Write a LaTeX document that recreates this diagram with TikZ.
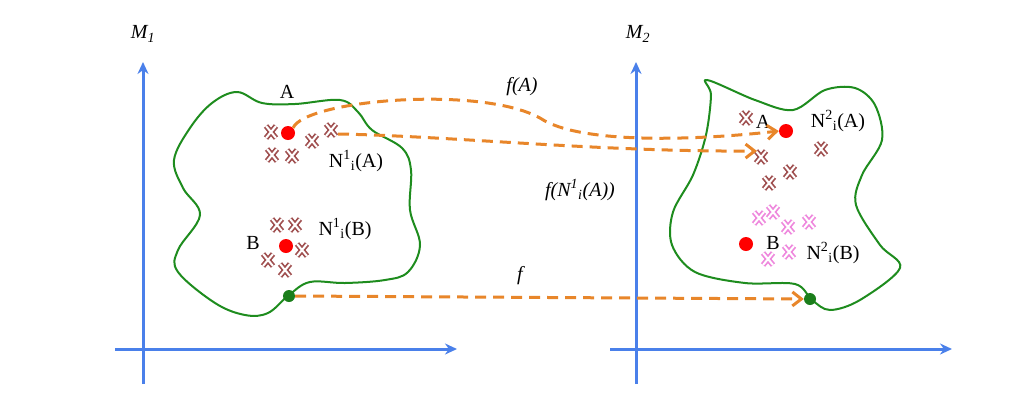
\documentclass[tikz,border=0pt]{standalone}
\usepackage{fontspec}
\setmainfont{Liberation Serif}
\usetikzlibrary{arrows.meta}
\definecolor{axblue}{HTML}{4A80EA}
\definecolor{blobgreen}{HTML}{1E8C1E}
\definecolor{dashor}{HTML}{E8862A}
\definecolor{crossbrown}{HTML}{A05050}
\definecolor{crosspink}{HTML}{EE88DD}
\tikzset{
  axis/.style={axblue,line width=3pt,-{Stealth[length=12pt,width=11pt]}},
  blob/.style={blobgreen,line width=2pt},
  fmap/.style={dashor,line width=3pt,dash pattern=on 11pt off 7pt,-{Straight Barb[length=9pt,width=14pt]}},
  lbl/.style={font=\fontsize{20}{24}\selectfont,inner sep=1pt},
  ilbl/.style={font=\fontsize{20}{24}\selectfont\itshape,inner sep=1pt},
  reddot/.style={circle,fill=red,minimum size=14pt,inner sep=0pt},
  greendot/.style={circle,fill=blobgreen!90!black,minimum size=12pt,inner sep=0pt},
  pics/xmark/.style={code={
    \draw[#1,line width=5.5pt] (-5,-6)--(5,6) (-5,6)--(5,-6);
    \draw[white,line width=2pt] (-5,-6)--(5,6) (-5,6)--(5,-6);}}
}
\begin{document}
\begin{tikzpicture}[x=1pt,y=-1pt]
\useasboundingbox (0,0) rectangle (1036,416);
% axes
\coordinate (y1) at (143,62); \coordinate (y1b) at (143,384);
\coordinate (x1a) at (115,349); \coordinate (x1) at (457,349);
\draw[axis] (y1b) -- (y1);
\draw[axis] (x1a) -- (x1);
\coordinate (y2) at (636,62); \coordinate (y2b) at (636,384);
\coordinate (x2a) at (610,349); \coordinate (x2) at (952,349);
\draw[axis] (y2b) -- (y2);
\draw[axis] (x2a) -- (x2);
\node[ilbl] (m1) at (143,34) {M\textsubscript{\itshape 1}};
\node[ilbl] (m2) at (638,34) {M\textsubscript{\itshape 2}};
% blobs
\draw[blob] plot[smooth cycle,tension=0.6] coordinates {
 (289,295) (268,313) (245,315) (215,303) (178,272) (178,250) (200,215) (183,188) (174,160) (190,128) (212,103) (237,92) (262,103) (295,104) (340,100) (358,112) (372,130) (402,148) (411,170) (410,210) (420,245) (408,272) (385,280) (345,283) (310,282)};
\draw[blob] plot[smooth cycle,tension=0.55] coordinates {
 (707,80) (711,95) (706,135) (693,175) (673,212) (672,245) (695,272) (745,283) (795,284) (812,300) (830,310) (860,300) (900,268) (880,245) (856,205) (862,175) (882,140) (875,105) (855,88) (825,90) (793,110) (755,100)};
% crosses
\foreach \p in {(271,132),(272,155),(292,156),(312,141),(331,130),
  (277,225),(295,225),(302,250),(268,260),(285,270)}
  \pic at \p {xmark=crossbrown};
\foreach \p in {(746,118),(761,157),(790,172),(769,183),(821,149)}
  \pic at \p {xmark=crossbrown};
\foreach \p in {(773,212),(759,218),(788,227),(809,222),(789,252),(768,259)}
  \pic at \p {xmark=crosspink};
% dots
\node[reddot] (a1) at (288,133) {};
\node[reddot] (b1) at (286,246) {};
\node[reddot] (a2) at (786,131) {};
\node[reddot] (b2) at (746,244) {};
\node[greendot] (g1) at (289,296) {};
\node[greendot] (g2) at (810,299) {};
% labels
\node[lbl] (la1) at (287,92) {A};
\node[lbl] (na1) at (356,161) {N\textsuperscript{1}\textsubscript{i}(A)};
\node[lbl] (lb1) at (253,243) {B};
\node[lbl] (nb1) at (345,229) {N\textsuperscript{1}\textsubscript{i}(B)};
\node[lbl] (la2) at (763,122) {A};
\node[lbl] (na2) at (838,121) {N\textsuperscript{2}\textsubscript{i}(A)};
\node[lbl] (lb2) at (773,243) {B};
\node[lbl] (nb2) at (833,253) {N\textsuperscript{2}\textsubscript{i}(B)};
\node[ilbl] (fa) at (522,87) {f(A)};
\node[ilbl] (fn) at (580,190) {f(N\textsuperscript{\itshape 1}\textsubscript{\itshape i}(A))};
\node[ilbl] (ff) at (520,276) {f};
% arrows
\coordinate (c1) at (338,134);
\coordinate (t2) at (757,151);
\draw[fmap] (a1.north east) .. controls (305,100) and (480,85) .. (540,118)
   .. controls (580,145) and (700,140) .. (a2.west);
\draw[fmap] (c1) .. controls (450,136) and (600,152) .. (t2);
\draw[fmap] (g1.east) -- (g2.west);
\end{tikzpicture}
\end{document}
